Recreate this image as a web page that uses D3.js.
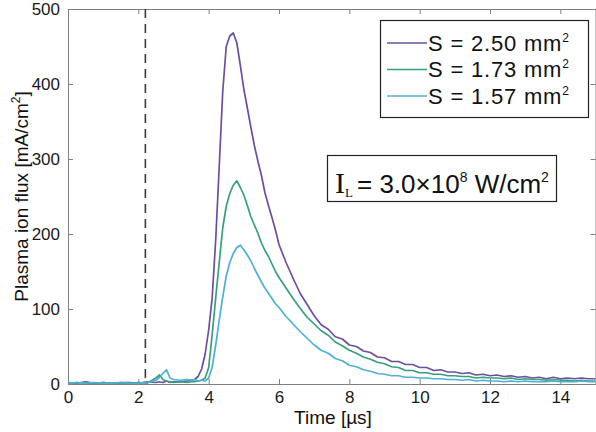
<!DOCTYPE html>
<html>
<head>
<meta charset="utf-8">
<script src="https://cdn.jsdelivr.net/npm/d3@7"></script>
<style>
  body { margin: 0; background: #fff; }
  svg { display: block; }
</style>
</head>
<body>
<div id="chart"></div>
<script>
// sample times in µs
const times = [0, 0.25, 0.5, 0.75, 1, 1.25, 1.5, 1.75, 2, 2.25,
  2.5, 2.6, 2.7, 2.8, 2.9, 3.0, 3.2, 3.4, 3.5,
  3.6, 3.7, 3.8, 3.9, 4.0, 4.1, 4.2, 4.3, 4.4, 4.5, 4.6, 4.7, 4.8, 4.9, 5.0,
  5.1, 5.2, 5.3, 5.4, 5.5, 5.6, 5.7, 5.8, 5.9, 6.0,
  6.2, 6.4, 6.6, 6.8, 7.0, 7.2, 7.4, 7.6, 7.8, 8.0, 8.2, 8.4, 8.6, 8.8, 9.0,
  9.2, 9.4, 9.6, 9.8, 10.0, 10.2, 10.4, 10.6, 10.8, 11.0, 11.2, 11.4, 11.6, 11.8, 12.0,
  12.2, 12.4, 12.6, 12.8, 13.0, 13.2, 13.4, 13.6, 13.8, 14.0, 14.2, 14.4, 14.6, 14.8, 15.0];

const flux250 = [2, 1, 3, 1, 2, 1, 2, 2, 1, 3,
  2, 3, 2, 4, 2, 3, 3, 4, 5,
  6, 10, 20, 40, 72, 115, 192, 290, 390, 450, 464, 468, 455, 425, 393,
  368, 342, 318, 297, 278, 255, 238, 222, 205, 186,
  162, 141, 121, 106, 91, 79, 73, 63, 60, 52, 50, 44, 42, 36, 35,
  30, 30, 26, 26, 22, 22, 18, 19, 16, 16, 14, 15, 12, 13, 11,
  12, 10, 11, 9, 10, 8, 9, 7, 9, 7, 8, 7, 8, 7, 7];

const flux173 = [1, 2, 1, 1, 2, 1, 1, 1, 2, 1,
  8, 12, 6, 4, 3, 2, 3, 2, 3,
  3, 4, 5, 8, 22, 66, 115, 162, 208, 237, 254, 265, 271, 262, 252,
  238, 223, 212, 201, 188, 178, 170, 160, 150, 142,
  128, 114, 101, 89, 80, 71, 65, 56, 51, 45, 41, 36, 33, 29, 27,
  23, 22, 18, 18, 15, 15, 13, 13, 11, 11, 10, 10, 8, 9, 8,
  8, 7, 8, 6, 7, 6, 6, 5, 6, 5, 5, 4, 5, 4, 4];

const flux157 = [1, 2, 1, 2, 1, 1, 2, 1, 1, 2,
  5, 9, 14, 19, 8, 6, 5, 6, 5,
  6, 4, 5, 4, 8, 22, 52, 85, 116, 144, 162, 174, 182, 185, 179,
  172, 164, 154, 145, 136, 128, 121, 114, 107, 102,
  90, 80, 70, 61, 52, 45, 41, 34, 31, 25, 23, 19, 17, 14, 13,
  11, 11, 9, 9, 8, 8, 7, 7, 6, 6, 5, 6, 4, 5, 4,
  4, 3, 4, 3, 4, 3, 3, 3, 4, 3, 3, 3, 4, 3, 3];

const seriesNames = ['S = 2.50 mm', 'S = 1.73 mm', 'S = 1.57 mm'];
const seriesColors = ['#6c4f9e', '#35a07c', '#4fb0d6'];
const xTicks = [0, 2, 4, 6, 8, 10, 12, 14];
const yTicks = [0, 100, 200, 300, 400, 500];
const markerTime = 2.2;

const series = [flux250, flux173, flux157].map((vals, i) => ({
  name: seriesNames[i],
  color: seriesColors[i],
  values: vals.map((v, j) => ({ t: times[j], v: v }))
}));

const W = 596, H = 432;
const margin = { top: 9, right: 0.5, bottom: 48, left: 68 };
const width = W - margin.left - margin.right;
const height = H - margin.top - margin.bottom;

const svg = d3.select('#chart').append('svg')
  .attr('width', W)
  .attr('height', H)
  .attr('font-family', 'Liberation Sans, Arial, sans-serif');

const xScale = d3.scaleLinear().domain([0, 15]).range([0, width]);
const yScale = d3.scaleLinear().domain([0, 500]).range([height, 0]);

const chart = svg.append('g')
  .attr('transform', `translate(${margin.left},${margin.top})`);

// axes, matlab style with inward ticks
const axisColor = '#808080';
const styleAxis = g => {
  g.select('.domain').attr('stroke', axisColor);
  g.selectAll('.tick line').attr('stroke', axisColor);
  g.selectAll('.tick text').attr('fill', '#1a1a1a').attr('font-size', 17);
};

chart.append('g')
  .attr('transform', `translate(0,${height})`)
  .call(d3.axisBottom(xScale).tickValues(xTicks).tickSize(-5).tickSizeOuter(0).tickPadding(7))
  .call(styleAxis);

chart.append('g')
  .call(d3.axisTop(xScale).tickValues(xTicks).tickSize(-5).tickSizeOuter(0).tickFormat(''))
  .call(styleAxis);

chart.append('g')
  .call(d3.axisLeft(yScale).tickValues(yTicks).tickSize(-5).tickSizeOuter(0).tickPadding(8))
  .call(styleAxis);

chart.append('g')
  .attr('transform', `translate(${width},0)`)
  .call(d3.axisRight(yScale).tickValues(yTicks).tickSize(-5).tickSizeOuter(0).tickFormat(''))
  .call(styleAxis);

// dashed marker
chart.append('line')
  .attr('x1', xScale(markerTime)).attr('x2', xScale(markerTime))
  .attr('y1', yScale(500)).attr('y2', yScale(0))
  .attr('stroke', '#3a3a3a')
  .attr('stroke-width', 1.6)
  .attr('stroke-dasharray', '9,6');

const line = d3.line()
  .x(d => xScale(d.t))
  .y(d => yScale(d.v));

chart.append('g')
  .selectAll('path')
  .data(series)
  .join('path')
  .attr('d', d => line(d.values))
  .attr('fill', 'none')
  .attr('stroke', d => d.color)
  .attr('stroke-width', 1.7)
  .attr('stroke-linejoin', 'round');

// axis labels
svg.append('text')
  .attr('x', 333)
  .attr('y', 424)
  .attr('text-anchor', 'middle')
  .attr('font-size', 19)
  .attr('fill', '#111')
  .text('Time [µs]');

const yLabel = svg.append('text')
  .attr('transform', `translate(28,${margin.top + height / 2}) rotate(-90)`)
  .attr('text-anchor', 'middle')
  .attr('font-size', 19)
  .attr('fill', '#111');
yLabel.append('tspan').text('Plasma ion flux [mA/cm');
yLabel.append('tspan').attr('font-size', 12).attr('dy', -8).text('2');
yLabel.append('tspan').attr('dy', 8).text(']');

// legend
const legend = svg.append('g');
legend.append('rect')
  .attr('x', 380.5).attr('y', 20.5)
  .attr('width', 208).attr('height', 97)
  .attr('fill', '#fff')
  .attr('stroke', '#222')
  .attr('stroke-width', 1.2);

const rows = legend.selectAll('.row')
  .data(series)
  .join('g')
  .attr('transform', (d, i) => `translate(0,${43 + i * 26.5})`);

rows.append('line')
  .attr('x1', 387).attr('x2', 427)
  .attr('stroke', d => d.color)
  .attr('stroke-width', 1.5);

const rowText = rows.append('text')
  .attr('x', 428)
  .attr('dy', '0.36em')
  .attr('font-size', 22)
  .attr('letter-spacing', 0.8)
  .attr('fill', '#111');
rowText.append('tspan').text(d => d.name);
rowText.append('tspan').attr('font-size', 12).attr('dy', -9).text('2');

// intensity annotation
const serif = 'Liberation Serif, Times New Roman, serif';
const note = svg.append('g');
note.append('rect')
  .attr('x', 327.5).attr('y', 155.5)
  .attr('width', 229).attr('height', 46)
  .attr('fill', '#fff')
  .attr('stroke', '#222')
  .attr('stroke-width', 1.2);

const noteText = note.append('text')
  .attr('y', 193)
  .attr('font-size', 26)
  .attr('fill', '#111');
noteText.append('tspan').attr('x', 335).attr('font-family', serif).attr('font-size', 30).text('I');
noteText.append('tspan').attr('font-family', serif).attr('font-size', 13).attr('dy', 4).text('L');
noteText.append('tspan').attr('x', 357).attr('dy', -4).text('= 3.0×10');
noteText.append('tspan').attr('font-size', 14).attr('dy', -11).text('8');
noteText.append('tspan').attr('dy', 11).text(' W/cm');
noteText.append('tspan').attr('font-size', 14).attr('dy', -11).text('2');
</script>
</body>
</html>
